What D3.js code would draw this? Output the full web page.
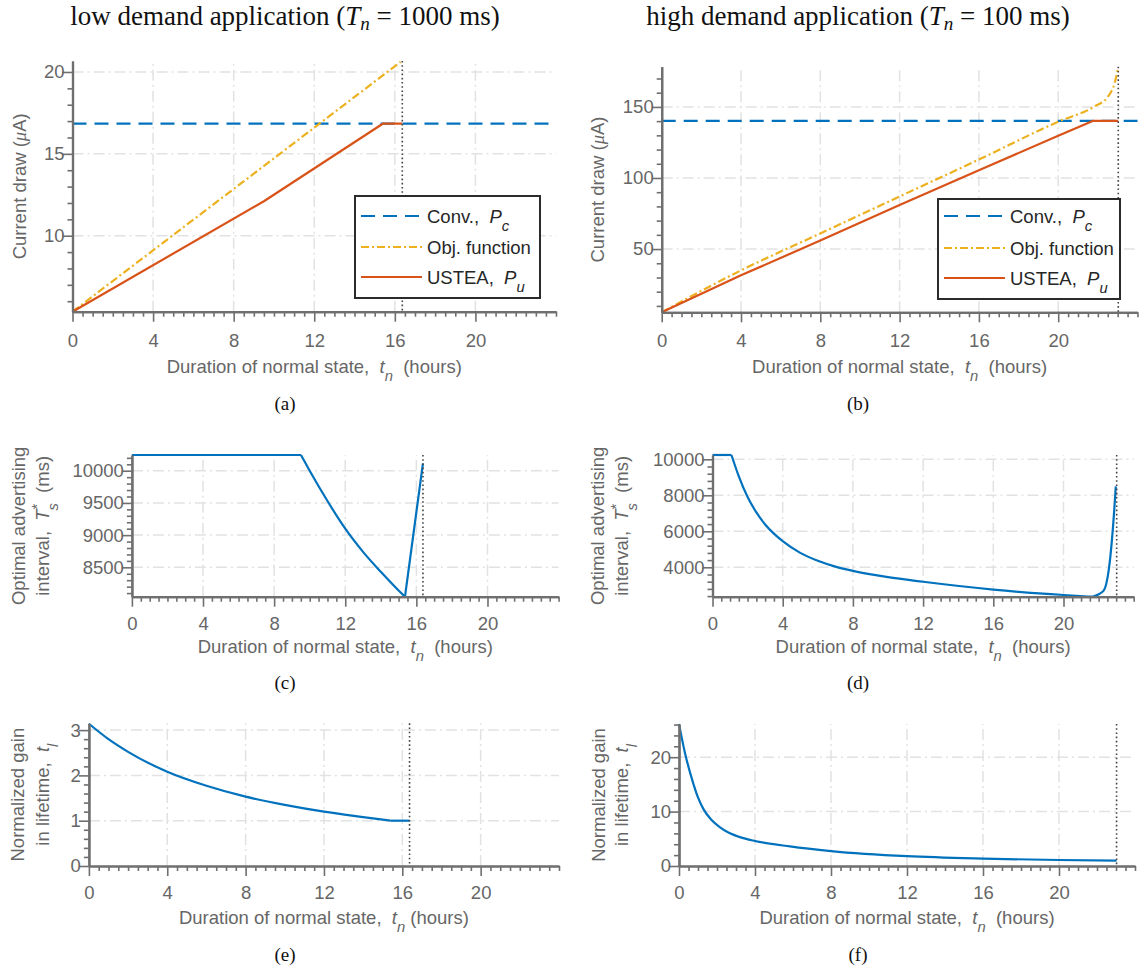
<!DOCTYPE html>
<html>
<head>
<meta charset="utf-8">
<script src="https://cdn.jsdelivr.net/npm/d3@7"></script>
<style>
  html, body { margin: 0; padding: 0; background: #ffffff; }
  svg { display: block; }
</style>
</head>
<body>
<script>
// ---------------- DATA ----------------
const hourTicks = [0, 4, 8, 12, 16, 20];

// (a) low demand, current draw (uA)
const aConvT = [0, 24];
const aConvV = [16.84, 16.84];
const aObjT = [0, 16.29];
const aObjV = [5.36, 20.62];
const aUsteaT = [0, 9.52, 15.4, 16.37];
const aUsteaV = [5.36, 12.12, 16.84, 16.84];
const aLimit = 16.37;
const aYTicks = [10, 15, 20];

// (b) high demand, current draw (uA)
const bConvT = [0, 24];
const bConvV = [140.2, 140.2];
const bObjT = [0, 4, 8, 12, 16, 20, 21.85, 22.5, 22.85, 23.03];
const bObjV = [5.5, 35, 61, 87, 113, 139.6, 150.5, 157, 167, 178];
const bUsteaT = [0, 4, 8, 12, 16, 20, 21.77, 23.03];
const bUsteaV = [5.5, 31.5, 56, 81, 105.5, 129.7, 140.2, 140.2];
const bLimit = 23.03;
const bYTicks = [50, 100, 150];

// (c) low demand, optimal advertising interval (ms)
const cT = [0, 9.51, 10, 11, 12, 13, 14, 15, 15.36, 16.37];
const cV = [10244, 10244, 10000, 9530, 9100, 8740, 8430, 8140, 8044, 10115];
const cKinks = [1, 8];
const cLimit = 16.37;
const cYTicks = [8500, 9000, 9500, 10000];

// (d) high demand, optimal advertising interval (ms)
const dT = [0, 1.08, 1.5, 2.0, 2.5, 3.0, 3.5, 4.0, 5.0, 6.0, 7.0, 8.0, 10, 12, 16, 20, 21.65, 22.27, 22.67, 22.88, 22.98];
const dV = [10240, 10240, 9050, 7900, 7050, 6380, 5870, 5450, 4800, 4360, 4040, 3800, 3450, 3196, 2760, 2460, 2367, 2680, 4590, 7020, 8500];
const dKinks = [1, 16];
const dLimit = 23.03;
const dYTicks = [4000, 6000, 8000, 10000];

// (e) low demand, normalized gain in lifetime
const eT = [0, 1, 2, 4, 6, 8, 10, 12, 14, 15.4, 16.37];
const eV = [3.14, 2.80, 2.52, 2.08, 1.77, 1.53, 1.35, 1.20, 1.08, 1.0, 1.0];
const eKinks = [9];
const eLimit = 16.37;
const eYTicks = [0, 1, 2, 3];

// (f) high demand, normalized gain in lifetime
const fT = [0, 0.32, 0.75, 1.0, 1.28, 1.7, 2.16, 2.6, 3.21, 4, 5.84, 8, 12, 16, 20, 23.03];
const fV = [26.1, 20.7, 15.2, 12.6, 10.5, 8.5, 7.1, 6.15, 5.3, 4.6, 3.6, 2.75, 1.8, 1.35, 1.1, 1.0];
const fKinks = [];
const fLimit = 23.03;
const fYTicks = [0, 10, 20];

// ---------------- STYLE ----------------
const W = 1143, H = 969;
const SANS = "'Liberation Sans', Arial, Helvetica, sans-serif";
const SERIF = "'Liberation Serif', 'Times New Roman', Times, serif";
const AXIS = "#6f6f6f";
const TXT = "#666666";
const GRID = "#e2e2e2";
const BLUE = "#0072BD", ORANGE = "#D95319", YELLOW = "#EDB120";
const FS = 18.5;

const svg = d3.select("body").append("svg")
  .attr("width", W).attr("height", H)
  .attr("viewBox", `0 0 ${W} ${H}`);
svg.append("rect").attr("width", W).attr("height", H).attr("fill", "#fff");

// rich text helper: parts [{t, it, serif, sub, sup, dx}]
function rich(textSel, parts, baseSize) {
  let shift = 0;
  parts.forEach(p => {
    const ts = textSel.append("tspan").text(p.t);
    let target = 0;
    if (p.sub) target = baseSize * 0.45;
    if (p.sup) target = -baseSize * 0.42;
    const dy = target - shift;
    if (dy !== 0) ts.attr("dy", dy);
    shift = target;
    if (p.dx) ts.attr("dx", p.dx);
    if (p.it) ts.attr("font-style", "italic");
    if (p.serif) ts.attr("font-family", SERIF);
    if (p.sub || p.sup) ts.attr("font-size", baseSize * 0.8);
  });
}

function drawPanel(p) {
  const g = svg.append("g");
  const x = d3.scaleLinear().domain([0, 24]).range([p.x0, p.x1]);
  const y = d3.scaleLinear().domain(p.yDomain).range([p.yB, p.yT]);

  // grid
  g.append("g").selectAll("line").data(hourTicks.filter(d => d > 0)).join("line")
    .attr("x1", d => x(d)).attr("x2", d => x(d))
    .attr("y1", p.yB).attr("y2", p.yT)
    .attr("stroke", GRID).attr("stroke-width", 1.5)
    .attr("stroke-dasharray", "11,4,2,4");
  g.append("g").selectAll("line").data(p.yTicks.filter(d => y(d) < p.yB - 2)).join("line")
    .attr("x1", p.x0).attr("x2", p.x1)
    .attr("y1", d => y(d)).attr("y2", d => y(d))
    .attr("stroke", GRID).attr("stroke-width", 1.5)
    .attr("stroke-dasharray", "11,4,2,4");

  // series
  p.series.forEach(s => {
    const pts = s.t.map((t, i) => [t, s.v[i]]);
    const cuts = [0, ...(s.kinks || []), pts.length - 1];
    const line = d3.line().x(d => x(d[0])).y(d => y(d[1]))
      .curve(s.smooth ? d3.curveMonotoneX : d3.curveLinear);
    for (let k = 0; k < cuts.length - 1; k++) {
      const seg = pts.slice(cuts[k], cuts[k + 1] + 1);
      g.append("path").attr("d", line(seg))
        .attr("fill", "none").attr("stroke", s.color)
        .attr("stroke-width", 2.2)
        .attr("stroke-linejoin", "round")
        .attr("stroke-dasharray", s.dash || null);
    }
  });

  // limit dotted line
  g.append("line")
    .attr("x1", x(p.limit)).attr("x2", x(p.limit))
    .attr("y1", p.yT).attr("y2", p.yB)
    .attr("stroke", "#444").attr("stroke-width", 1.6)
    .attr("stroke-dasharray", "1.6,2.6");

  // axes
  const xMinor = d3.range(0, 24.001, 0.5).filter(d => !hourTicks.includes(d));
  const yMinor = p.yMinor.filter(d => !p.yTicks.includes(d));
  const axX = g.append("g").attr("transform", `translate(0,${p.yB})`);
  axX.append("g").call(d3.axisBottom(x).tickValues(xMinor).tickSize(5).tickSizeOuter(0).tickFormat(""));
  axX.append("g").call(d3.axisBottom(x).tickValues(hourTicks).tickSize(10).tickSizeOuter(0).tickPadding(p.xPad));
  const axY = g.append("g").attr("transform", `translate(${p.x0},0)`);
  axY.append("g").call(d3.axisLeft(y).tickValues(yMinor).tickSize(5).tickSizeOuter(0).tickFormat(""));
  axY.append("g").call(d3.axisLeft(y).tickValues(p.yTicks).tickSize(10).tickSizeOuter(0).tickPadding(-2).tickFormat(d3.format("d")));

  g.selectAll(".domain").attr("stroke", AXIS).attr("stroke-width", 2.2);
  g.selectAll(".tick line").attr("stroke", AXIS).attr("stroke-width", 1.6);
  g.selectAll(".tick text").attr("fill", TXT)
    .attr("font-family", SANS).attr("font-size", FS);

  // x label
  const xl = g.append("text")
    .attr("x", (p.x0 + p.x1) / 2).attr("y", p.xLabelY)
    .attr("text-anchor", "middle").attr("fill", TXT)
    .attr("font-family", SANS).attr("font-size", FS)
    .style("white-space", "pre");
  rich(xl, [{t: "Duration of normal state,  "}, {t: "t", it: true}, {t: "n", it: true, sub: true}, {t: p.tight ? " (hours)" : "  (hours)"}], FS);

  // y label(s)
  const cy = (p.yB + p.yT) / 2;
  p.yLabel.forEach((parts, i) => {
    const yl = g.append("text")
      .attr("transform", `translate(${p.yLabelX[i]},${cy}) rotate(-90)`)
      .attr("text-anchor", "middle").attr("fill", TXT)
      .attr("dy", "0.35em")
      .attr("font-family", SANS).attr("font-size", FS)
      .style("white-space", "pre");
    rich(yl, parts, FS);
  });

  // caption
  svg.append("text").attr("x", p.capX).attr("y", p.capY)
    .attr("text-anchor", "middle").attr("font-family", SERIF)
    .attr("font-size", 19).attr("fill", "#111").text(p.cap);

  // legend
  if (p.legend) {
    const L = p.legend;
    g.append("rect").attr("x", L.x).attr("y", L.y).attr("width", L.w).attr("height", L.h)
      .attr("fill", "#fff").attr("stroke", "#2b2b2b").attr("stroke-width", 2);
    L.items.forEach((it, i) => {
      const yy = L.rows[i];
      g.append("line").attr("x1", L.x + 6).attr("x2", L.x + 67)
        .attr("y1", yy).attr("y2", yy)
        .attr("stroke", it.color).attr("stroke-width", 2.2)
        .attr("stroke-dasharray", it.dash || null);
      const tx = g.append("text").attr("x", L.x + 72).attr("y", yy).attr("dy", "0.36em")
        .attr("font-family", SANS).attr("font-size", FS).attr("fill", "#262626")
        .style("white-space", "pre");
      rich(tx, it.parts, FS);
    });
  }
}

const convDash = "14,8", objDash = "8,3,2,3";
const legendItems = [
  {color: BLUE, dash: convDash, parts: [{t: "Conv.,  "}, {t: "P", it: true}, {t: "c", it: true, sub: true}]},
  {color: YELLOW, dash: objDash, parts: [{t: "Obj. function"}]},
  {color: ORANGE, parts: [{t: "USTEA,  "}, {t: "P", it: true}, {t: "u", it: true, sub: true}]}
];
const currentLabel = [[{t: "Current draw ("}, {t: "μ", it: true, serif: true}, {t: "A)"}]];
const intervalLabel = [
  [{t: "Optimal advertising"}],
  [{t: "interval,  "}, {t: "T", it: true}, {t: "*", sup: true}, {t: "s", it: true, sub: true, dx: -7}, {t: "  (ms)"}]
];
const gainLabel = [
  [{t: "Normalized gain"}],
  [{t: "in lifetime,  "}, {t: "t", it: true}, {t: "l", it: true, sub: true}]
];

// titles
function title(xc, pre, post) {
  svg.append("text").attr("x", xc).attr("y", 25).attr("text-anchor", "middle")
    .attr("font-family", SERIF).attr("font-size", 27).attr("fill", "#111")
    .style("white-space", "pre")
    .call(t => { t.append("tspan").text(pre);
                 t.append("tspan").attr("font-style", "italic").text("T");
                 t.append("tspan").attr("font-style", "italic").attr("font-size", 19).attr("dy", 5).text("n");
                 t.append("tspan").attr("dy", -5).text(post); });
}
title(285, "low demand application (", " = 1000 ms)");
title(858, "high demand application (", " = 100 ms)");

// (a)
drawPanel({
  x0: 72.5, x1: 556, yB: 311.7, yT: 61, yDomain: [5.36, 20.67],
  yTicks: aYTicks, yMinor: d3.range(6, 20.5, 1), xPad: 12,
  series: [
    {t: aConvT, v: aConvV, color: BLUE, dash: convDash},
    {t: aObjT, v: aObjV, color: YELLOW, dash: objDash},
    {t: aUsteaT, v: aUsteaV, color: ORANGE}
  ],
  limit: aLimit, xLabelY: 372.5, yLabel: currentLabel, yLabelX: [20],
  cap: "(a)", capX: 285, capY: 410,
  legend: {x: 355, y: 196, w: 185, h: 102, rows: [216, 247, 277], items: legendItems}
});
// (b)
drawPanel({
  x0: 661.7, x1: 1137.5, yB: 312.3, yT: 66.7, yDomain: [5.5, 178.3],
  yTicks: bYTicks, yMinor: d3.range(10, 175, 10), xPad: 12,
  series: [
    {t: bConvT, v: bConvV, color: BLUE, dash: convDash},
    {t: bObjT, v: bObjV, color: YELLOW, dash: objDash, smooth: true},
    {t: bUsteaT, v: bUsteaV, color: ORANGE}
  ],
  limit: bLimit, xLabelY: 372.5, yLabel: currentLabel, yLabelX: [598],
  cap: "(b)", capX: 858, capY: 410,
  legend: {x: 938, y: 199, w: 182, h: 100, rows: [216, 248, 278], items: legendItems}
});
// (c)
drawPanel({
  x0: 131.9, x1: 558.6, yB: 596.7, yT: 455, yDomain: [8044, 10244],
  yTicks: cYTicks, yMinor: d3.range(8100, 10250, 100), xPad: 10,
  series: [{t: cT, v: cV, color: BLUE, smooth: true, kinks: cKinks}],
  limit: cLimit, xLabelY: 653, yLabel: intervalLabel, yLabelX: [19, 43],
  cap: "(c)", capX: 285, capY: 689
});
// (d)
drawPanel({
  x0: 712.5, x1: 1133.7, yB: 596.7, yT: 455, yDomain: [2367, 10239],
  yTicks: dYTicks, yMinor: d3.range(2400, 10100, 400), xPad: 10,
  series: [{t: dT, v: dV, color: BLUE, smooth: true, kinks: dKinks}],
  limit: dLimit, xLabelY: 653, yLabel: intervalLabel, yLabelX: [598, 622],
  cap: "(d)", capX: 858, capY: 689
});
// (e)
drawPanel({
  x0: 88.9, x1: 559, yB: 866, yT: 723.3, yDomain: [0, 3.15],
  yTicks: eYTicks, yMinor: d3.range(0, 3.05, 0.2).map(d => +d.toFixed(1)), xPad: 10,
  series: [{t: eT, v: eV, color: BLUE, smooth: true, kinks: eKinks}],
  limit: eLimit, xLabelY: 923.5, yLabel: gainLabel, yLabelX: [18, 43], tight: true,
  cap: "(e)", capX: 285, capY: 961
});
// (f)
drawPanel({
  x0: 679, x1: 1135, yB: 866, yT: 724, yDomain: [0, 26.1],
  yTicks: fYTicks, yMinor: d3.range(0, 26.5, 2), xPad: 10,
  series: [{t: fT, v: fV, color: BLUE, smooth: true, kinks: fKinks}],
  limit: fLimit, xLabelY: 923.5, yLabel: gainLabel, yLabelX: [599, 622],
  cap: "(f)", capX: 858, capY: 961
});
</script>
</body>
</html>
